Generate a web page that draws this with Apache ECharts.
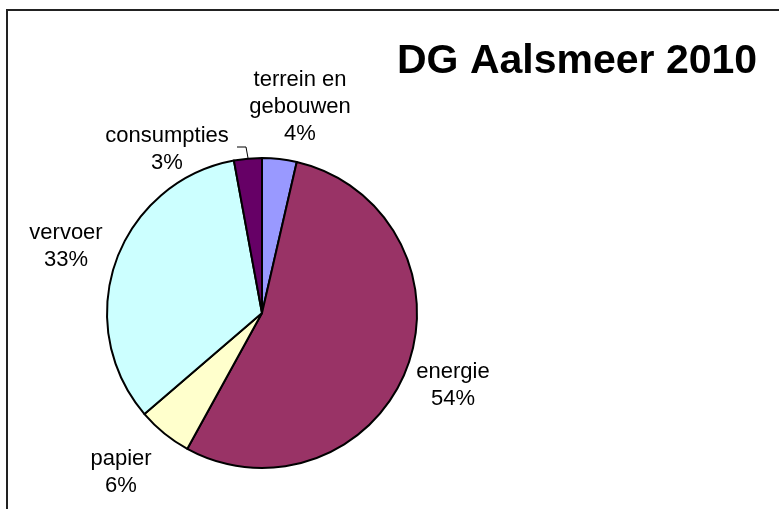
<!DOCTYPE html>
<html>
<head>
<meta charset="utf-8">
<script src="https://cdn.jsdelivr.net/npm/echarts@6/dist/echarts.min.js"></script>
<style>
  html, body { margin: 0; padding: 0; background: #fff; }
  #main { width: 779px; height: 509px; }
</style>
</head>
<body>
<div id="main"></div>
<script>
var categories = ['terrein en\ngebouwen', 'energie', 'papier', 'vervoer', 'consumpties'];
var shares = [3.6, 54.4, 5.7, 33.4, 2.9];
var colors = ['#9999FF', '#993366', '#FFFFCC', '#CCFFFF', '#660066'];

// where the labels sit (label block centres)
var labelSpots = [[300, 107], [453, 385], [121, 472], [66, 246], [167, 149]];

var chartDom = document.getElementById('main');
var myChart = echarts.init(chartDom);
var option;

option = {
  animation: false,
  title: {
    text: 'DG Aalsmeer 2010',
    left: 397,
    top: 41,
    padding: 0,
    textStyle: {
      fontFamily: 'Liberation Sans',
      fontSize: 41,
      fontWeight: 'bold',
      color: '#000'
    }
  },
  graphic: [{
    type: 'rect',
    shape: { x: 7, y: 10, width: 900, height: 700 },
    style: { fill: 'none', stroke: '#222', lineWidth: 2 },
    silent: true
  }],
  series: [
    {
      type: 'pie',
      center: [262, 313],
      radius: 155,
      startAngle: 90,
      clockwise: true,
      avoidLabelOverlap: false,
      itemStyle: {
        borderColor: '#000',
        borderWidth: 2
      },
      label: {
        position: 'outside',
        fontFamily: 'Liberation Sans',
        fontSize: 22,
        lineHeight: 27,
        color: '#000',
        formatter: function (p) {
          return p.name + '\n' + Math.round(p.percent) + '%';
        }
      },
      labelLine: { show: false },
      labelLayout: function (p) {
        var s = labelSpots[p.dataIndex];
        var out = { x: s[0], y: s[1], align: 'center', verticalAlign: 'middle' };
        if (p.dataIndex === 4) {
          out.labelLinePoints = [[248, 158], [246, 147], [237, 147]];
        }
        return out;
      },
      data: categories.map(function (c, i) {
        var d = { name: c, value: shares[i], itemStyle: { color: colors[i] } };
        if (i === 4) {
          d.labelLine = { show: true, lineStyle: { color: '#000', width: 1 } };
        }
        return d;
      })
    }
  ]
};

option && myChart.setOption(option);
</script>
</body>
</html>
